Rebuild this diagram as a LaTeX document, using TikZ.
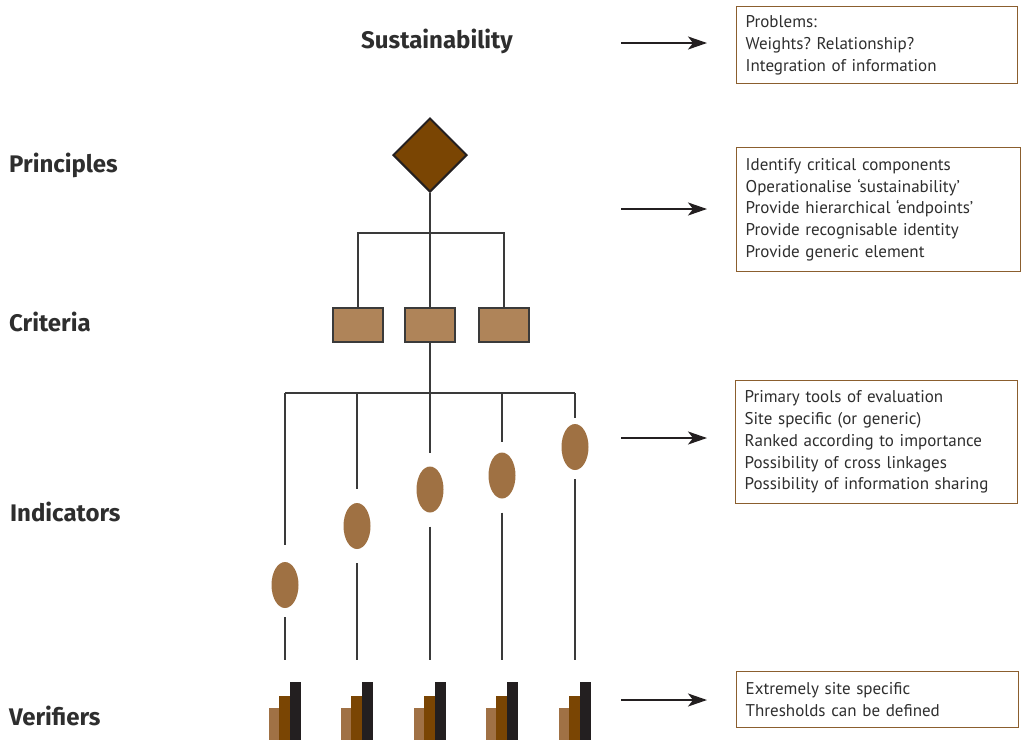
\documentclass[tikz,border=0pt]{standalone}
\usepackage{fontspec}
\setmainfont{PT Sans}
\newfontfamily\lblfont{Fira Sans}
\frenchspacing
\usetikzlibrary{arrows.meta,shapes.geometric}
\definecolor{dkbrown}{HTML}{7A4503}
\definecolor{critfill}{HTML}{AF8459}
\definecolor{indfill}{HTML}{9F7143}
\definecolor{vlight}{HTML}{A07145}
\definecolor{vdark}{HTML}{231F20}
\definecolor{boxbrown}{HTML}{8B5E2E}
\definecolor{txtgray}{HTML}{2E2E2E}
\definecolor{lngray}{HTML}{3A3A3A}
\tikzset{
  lbl/.style={font=\lblfont\fontsize{24}{26}\selectfont\bfseries, text=txtgray, inner sep=0pt},
  tbox/.style={draw=boxbrown, line width=1.3pt, align=left, inner xsep=9pt, inner ysep=4pt,
    font=\fontsize{17}{21.7}\selectfont\frenchspacing, text=txtgray, anchor=north west},
  crit/.style={draw=lngray, line width=1.3pt, fill=critfill, minimum width=50pt, minimum height=34pt, inner sep=0pt},
  ind/.style={ellipse, fill=indfill, minimum width=27pt, minimum height=46pt, inner sep=0pt},
  ln/.style={draw=lngray, line width=1.4pt},
  arr/.style={draw=vdark, line width=2pt, -{Stealth[length=19pt,width=13pt,inset=5pt]}},
}
\begin{document}
\begin{tikzpicture}[x=1pt,y=-1pt]
\useasboundingbox (0,0) rectangle (1022,740);

% level labels
\node[lbl] (sust) at (437,41) {Sustainability};
\node[lbl, anchor=west] (princ) at (9,165) {Principles};
\node[lbl, anchor=west] (crits) at (9,322) {Criteria};
\node[lbl, anchor=west] (inds) at (10,512) {Indicators};
\node[lbl, anchor=west] (vers) at (9,716) {Verifiers};

% principle
\node[diamond, draw=vdark, line width=2pt, fill=dkbrown, minimum width=74pt, minimum height=74pt, inner sep=0pt] (P) at (430,155) {};

% criteria
\node[crit] (c1) at (358,325) {};
\node[crit] (c2) at (430,325) {};
\node[crit] (c3) at (504,325) {};
\coordinate (pj) at (430,233);
\draw[ln] (P.south) -- (pj);
\draw[ln] (c1.north) |- (pj) -| (c3.north);
\draw[ln] (pj) -- (c2.north);

% indicators
\node[ind] (e1) at (285,585) {};
\node[ind] (e2) at (357,526) {};
\node[ind] (e3) at (430,489.5) {};
\node[ind] (e4) at (502,475.5) {};
\node[ind] (e5) at (575,447) {};
\coordinate (ij) at (430,393);
\draw[ln] (c2.south) -- (ij);
\draw[ln] (e1 |- ij) -- (e5 |- ij);

% verifier anchors
\foreach \i/\x in {1/285,2/357,3/430,4/502,5/575}{
  \coordinate (v\i) at (\x,660);
  \fill[vlight] (\x-16,708) rectangle (\x-6,740);
  \fill[dkbrown] (\x-6,696) rectangle (\x+5,740);
  \fill[vdark] (\x+5,682) rectangle (\x+16,740);
}

\draw[ln, shorten >=17pt] (e1 |- ij) -- (e1.north);
\draw[ln, shorten >=14pt] (e2 |- ij) -- (e2.north);
\draw[ln, shorten >=13pt] (e3 |- ij) -- (e3.north);
\draw[ln, shorten >=10pt] (e4 |- ij) -- (e4.north);
\draw[ln, shorten >=6pt]  (e5 |- ij) -- (e5.north);
\draw[ln, shorten <=9pt]  (e1.south) -- (v1);
\draw[ln, shorten <=14pt] (e2.south) -- (v2);
\draw[ln, shorten <=14pt] (e3.south) -- (v3);
\draw[ln, shorten <=14pt] (e4.south) -- (v4);
\draw[ln, shorten <=9pt]  (e5.south) -- (v5);

% text boxes
\node[tbox, text width=263pt, minimum height=77pt] (b1) at (736,6)
  {Problems:\\Weights? Relationship?\\Integration of information};
\node[tbox, text width=266pt, minimum height=124pt] (b2) at (736,147)
  {Identify critical components\\Operationalise ‘sustainability’\\Provide hierarchical ‘endpoints’\\Provide recognisable identity\\Provide generic element};
\node[tbox, text width=264pt, minimum height=123pt] (b3) at (735,380)
  {Primary tools of evaluation\\Site specific (or generic)\\Ranked according to importance\\Possibility of cross linkages\\Possibility of information sharing};
\node[tbox, text width=264pt, minimum height=56pt] (b4) at (736,671)
  {Extremely site specific\\Thresholds can be defined};

% arrows
\coordinate (a1) at (621,43);
\coordinate (a2) at (621,209);
\coordinate (a3) at (621,438);
\coordinate (a4) at (621,700);
\draw[arr, shorten >=29pt] (a1) -- (a1 -| b1.west);
\draw[arr, shorten >=29pt] (a2) -- (a2 -| b2.west);
\draw[arr, shorten >=28pt] (a3) -- (a3 -| b3.west);
\draw[arr, shorten >=29pt] (a4) -- (a4 -| b4.west);
\end{tikzpicture}
\end{document}
